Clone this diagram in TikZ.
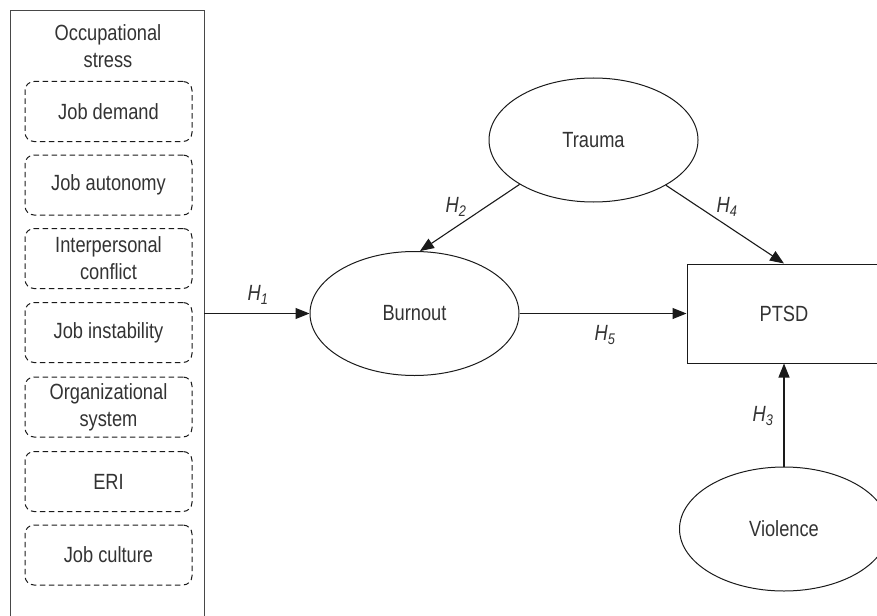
\documentclass[tikz,border=0pt]{standalone}
\usepackage{fontspec}
\setmainfont[FakeStretch=0.83]{Liberation Sans}
\usetikzlibrary{arrows.meta,shapes.geometric}
\definecolor{txt}{HTML}{333333}
\definecolor{ln}{HTML}{1A1A1A}
\begin{document}
\begin{tikzpicture}[x=1pt,y=-1pt,
  font=\fontsize{22}{27}\selectfont,
  every node/.style={text=txt},
  dimbox/.style={draw=ln,dashed,dash pattern=on 5.5pt off 3.5pt,rounded corners=9pt,line width=1pt,minimum width=167pt,minimum height=60pt,inner sep=0pt,align=center},
  lat/.style={draw=ln,ellipse,line width=1pt,minimum width=209pt,minimum height=124pt,inner sep=0pt},
  conn/.style={draw=ln,line width=1.1pt,-{Triangle[length=14pt,width=11pt]}},
  hlab/.style={font=\fontsize{22}{24}\selectfont\itshape}
]
\clip (0,0) rectangle (877,615);
\fill[white] (0,0) rectangle (877,615);
% outer box
\node[draw=ln!80,line width=1.2pt,minimum width=194pt,minimum height=620pt,inner sep=0pt,anchor=north west] (occ) at (10,10) {};
\node[align=center] (occt) at (108,46.5) {Occupational\\stress};
\node[dimbox] (d1) at (108.5,111.5) {Job demand};
\node[dimbox] (d2) at (108.5,185) {Job autonomy};
\node[dimbox] (d3) at (108.5,258.5) {Interpersonal\\conflict};
\node[dimbox] (d4) at (108.5,332.5) {Job instability};
\node[dimbox] (d5) at (108.5,407) {Organizational\\system};
\node[dimbox] (d6) at (108.5,481.5) {ERI};
\node[dimbox] (d7) at (108.5,555) {Job culture};
% latent nodes
\node[lat] (trauma) at (593.5,140) {Trauma};
\node[lat] (burnout) at (414.5,313.5) {Burnout};
\node[lat] (violence) at (784,529) {Violence};
\node[draw=ln,line width=1pt,minimum width=194pt,minimum height=99pt,inner sep=0pt] (ptsd) at (784,313.5) {PTSD};
% connectors
\coordinate (h1s) at (204,313.5);
\draw[conn] (h1s) -- (burnout.west);
\draw[conn] (trauma.211.7) -- (burnout.85);
\draw[conn] (trauma.328.5) -- (ptsd.north);
\draw[conn] (burnout.east) -- (ptsd.west);
\draw[conn] (violence.north) -- (ptsd.south);
% labels
\node[hlab] (l1) at (258,295) {H\textsubscript{1}};
\node[hlab] (l2) at (456,207) {H\textsubscript{2}};
\node[hlab] (l4) at (727,207) {H\textsubscript{4}};
\node[hlab] (l5) at (605,335) {H\textsubscript{5}};
\node[hlab] (l3) at (763,416) {H\textsubscript{3}};
\end{tikzpicture}
\end{document}
